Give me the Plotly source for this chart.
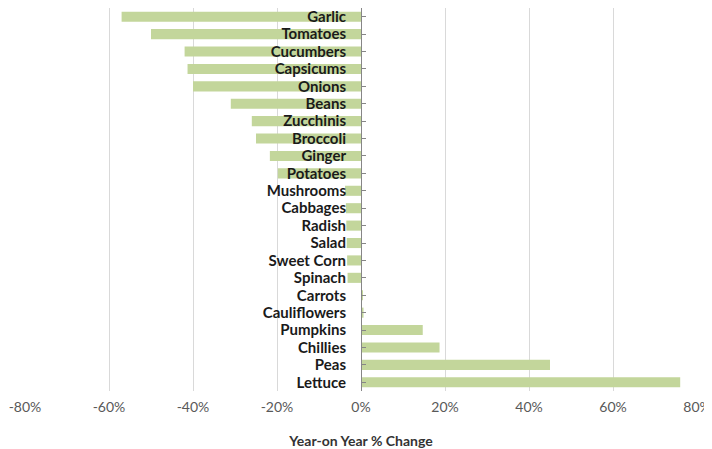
import plotly.graph_objects as go

vegetables = ["Garlic", "Tomatoes", "Cucumbers", "Capsicums", "Onions", "Beans",
              "Zucchinis", "Broccoli", "Ginger", "Potatoes", "Mushrooms", "Cabbages",
              "Radish", "Salad", "Sweet Corn", "Spinach", "Carrots", "Cauliflowers",
              "Pumpkins", "Chillies", "Peas", "Lettuce"]
pct_change = [-57, -50, -42, -41.3, -40, -31, -26, -25, -21.7, -19.8, -3.8, -3.6,
              -3.5, -3.4, -3.3, -3.2, 0.3, 0.6, 14.7, 18.7, 45, 76]
tick_vals = [-80, -60, -40, -20, 0, 20, 40, 60, 80]
tick_text = ["-80%", "-60%", "-40%", "-20%", "0%", "20%", "40%", "60%", "80%"]

fig = go.Figure(go.Bar(
    x=pct_change, y=vegetables, orientation="h",
    marker=dict(color="#c3d69b", line=dict(width=0)),
    hoverinfo="x+y",
))

# page body has an 8px default margin, so the figure is sized to fit inside it
fig.update_layout(
    width=704, height=441,
    margin=dict(l=17, r=15, t=0, b=58, autoexpand=False),
    paper_bgcolor="white", plot_bgcolor="white",
    bargap=0.42,
    showlegend=False,
    font=dict(family="Lato, Open Sans, sans-serif"),
    xaxis=dict(
        range=[-80, 80], tickvals=tick_vals, ticktext=tick_text,
        showgrid=True, gridcolor="#d9d9d9", gridwidth=1,
        zeroline=False, showline=False, ticks="",
        ticklabelstandoff=6,
        tickfont=dict(size=14, color="#595959", family="Lato, sans-serif"),
        title=dict(text="Year-on Year % Change", standoff=22,
                   font=dict(size=14, color="#333333", family="Lato, sans-serif", weight="bold")),
        automargin=False,
        fixedrange=True,
    ),
    yaxis=dict(
        type="category", categoryorder="array", categoryarray=vegetables,
        tickmode="array", tickvals=vegetables, ticktext=vegetables,
        autorange="reversed",
        anchor="free", position=0.5, side="left",
        showline=True, linecolor="#868686", linewidth=1,
        ticks="inside", ticklen=4, tickcolor="#868686",
        showgrid=False, zeroline=False,
        tickfont=dict(size=15, color="#1a1a1a", family="Lato, sans-serif", weight="bold"),
        ticklabelstandoff=12,
        automargin=False,
        fixedrange=True,
    ),
)

fig.write_html("out.html")
